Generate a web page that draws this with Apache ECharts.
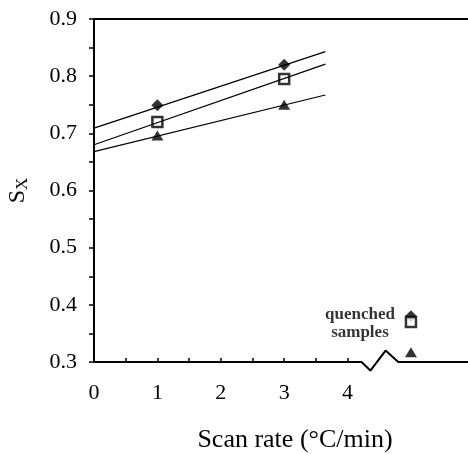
<!DOCTYPE html>
<html>
<head>
<meta charset="utf-8">
<style>
  html, body { margin: 0; padding: 0; background: #fff; }
  #chart { width: 468px; height: 454px; }
</style>
<script src="https://cdn.jsdelivr.net/npm/echarts@6/dist/echarts.min.js"></script>
</head>
<body>
<div id="chart"></div>
<script>
// measured points
const scanRates = [1, 3];
const diamondVals = [0.749, 0.820];
const squareVals = [0.720, 0.795];
const triangleVals = [0.696, 0.750];

// fitted lines, drawn from 0 to the end of the fit
const fitX = [0, 3.65];
const diamondFit = [0.709, 0.843];
const squareFit = [0.680, 0.821];
const triangleFit = [0.668, 0.767];

// quenched samples (plotted past the axis break)
const quenchedX = 5;
const quenchedDiamond = 0.380;
const quenchedSquare = 0.370;
const quenchedTriangle = 0.317;

// x axis baseline with the break zigzag
const baseX = [0, 4.22, 4.36, 4.6, 4.8, 5.9];
const baseY = [0.3, 0.3, 0.285, 0.32, 0.3, 0.3];

const xTicks = [0, 0.5, 1, 1.5, 2, 2.5, 3, 3.5, 4];
const xLabels = [0, 1, 2, 3, 4];

const font = 'Liberation Serif';
const pair = (xs, ys) => xs.map((x, i) => [x, ys[i]]);

const chart = echarts.init(document.getElementById('chart'));
chart.setOption({
  animation: false,
  grid: { left: 94, right: 0, top: 19, bottom: 92, outerBoundsMode: 'none', containLabel: false },
  xAxis: [{
    type: 'value',
    min: 0,
    max: 5.9,
    name: 'Scan rate (°C/min)',
    nameLocation: 'middle',
    nameGap: 65,
    nameTextStyle: { fontFamily: font, fontSize: 26, color: '#000', padding: [0, 0, 0, 28] },
    axisLine: { show: false },
    axisTick: { show: true, inside: true, length: 4, customValues: xTicks, lineStyle: { color: '#000', width: 1.5 } },
    axisLabel: { customValues: xLabels, margin: 20, fontFamily: font, fontSize: 22, color: '#000' },
    splitLine: { show: false }
  }, {
    type: 'value',
    position: 'top',
    min: 0,
    max: 5.9,
    axisLine: { show: true, lineStyle: { color: '#000', width: 2 } },
    axisTick: { show: false },
    axisLabel: { show: false },
    splitLine: { show: false }
  }],
  yAxis: {
    type: 'value',
    min: 0.3,
    max: 0.9,
    interval: 0.1,
    name: '{s|S}{x|X}',
    nameLocation: 'middle',
    nameGap: 63,
    nameRotate: 90,
    nameTextStyle: {
      rich: {
        s: { fontFamily: font, fontSize: 24, color: '#000' },
        x: { fontFamily: font, fontSize: 17, color: '#000', verticalAlign: 'bottom', padding: [10, 0, 0, 0] }
      }
    },
    axisLine: { show: true, lineStyle: { color: '#000', width: 2 } },
    axisTick: { show: true, inside: false, length: 5, lineStyle: { color: '#000', width: 1.5 } },
    minorTick: { show: true, splitNumber: 2, length: 5, lineStyle: { color: '#000', width: 1.5 } },
    axisLabel: { margin: 17, fontFamily: font, fontSize: 22, color: '#000', formatter: v => v.toFixed(1) },
    splitLine: { show: false }
  },
  series: [
    {
      type: 'line', data: pair(baseX, baseY), clip: false, showSymbol: false, silent: true,
      lineStyle: { color: '#000', width: 2 }
    },
    {
      type: 'line', data: pair(fitX, diamondFit), showSymbol: false, silent: true,
      lineStyle: { color: '#000', width: 1.2 }
    },
    {
      type: 'line', data: pair(fitX, squareFit), showSymbol: false, silent: true,
      lineStyle: { color: '#000', width: 1.2 }
    },
    {
      type: 'line', data: pair(fitX, triangleFit), showSymbol: false, silent: true,
      lineStyle: { color: '#000', width: 1.2 }
    },
    {
      type: 'scatter', symbol: 'diamond', symbolSize: [12, 12],
      itemStyle: { color: '#000' },
      data: pair(scanRates, diamondVals).concat([{
        value: [quenchedX, quenchedDiamond],
        label: {
          show: true, position: [-45, 13], align: 'center', verticalAlign: 'middle',
          formatter: 'quenched\nsamples',
          fontFamily: font, fontSize: 17, fontWeight: 'bold', lineHeight: 18, color: '#000'
        }
      }])
    },
    {
      type: 'scatter', symbol: 'rect', symbolSize: 10, clip: false,
      itemStyle: { color: '#fff', borderColor: '#000', borderWidth: 2.5 },
      data: pair(scanRates, squareVals).concat([[quenchedX, quenchedSquare]])
    },
    {
      type: 'scatter', symbol: 'triangle', symbolSize: [12, 10],
      itemStyle: { color: '#000' },
      data: pair(scanRates, triangleVals).concat([[quenchedX, quenchedTriangle]])
    }
  ]
});
</script>
</body>
</html>
